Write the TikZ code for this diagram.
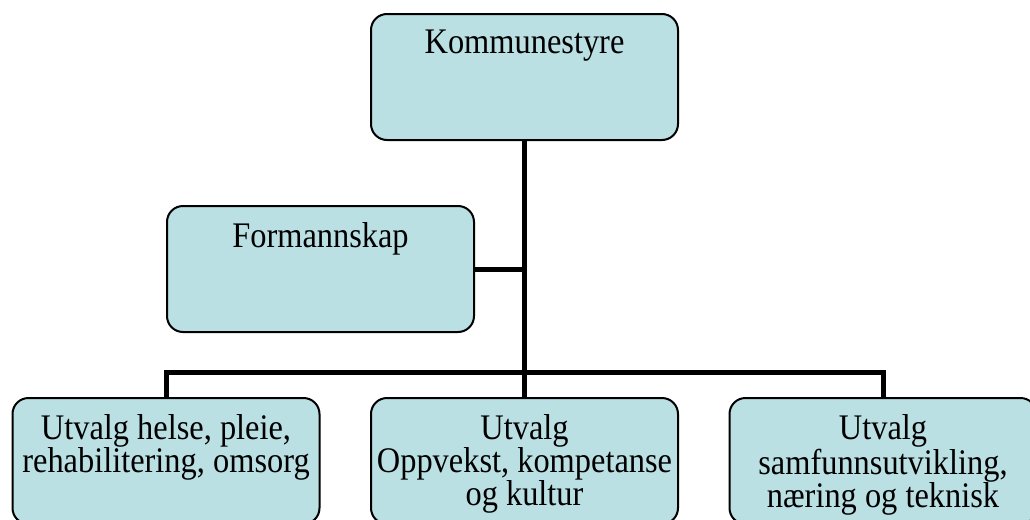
\documentclass[tikz,border=0pt]{standalone}
\usepackage{fontspec}
\setmainfont{Liberation Serif}[FakeStretch=0.9]
\definecolor{unitfillcolor}{RGB}{186,224,228}

\begin{document}
\begin{tikzpicture}[
	x=0.5pt, y=-0.5pt,
	unit/.style={rectangle, draw, fill=unitfillcolor, line width=1pt,
		rounded corners=8pt, minimum width=153.5pt, minimum height=63pt},
	unittext/.style={anchor=north, inner sep=0pt, yshift=-8.5pt, align=center},
	link/.style={line width=2.5pt},
	node distance=96pt,
	every node/.style={font=\fontsize{18}{16.5}\selectfont},
]
\clip (0,0) rectangle (1030,520);
% Input 1: placement, input 2: name, input 3: text at the top of the box.
\def\unitbox[#1](#2)#3{
	\node[unit, #1] (#2) {};
	\node[unittext] at (#2.north) (#2text) {#3};
}
	\unitbox[at={(524.5,77)}](top){Kommunestyre}
	\unitbox[below of=top, xshift=-102pt](FS){Formannskap}
	\unitbox[below of=FS, xshift=102pt](UOK){Utvalg\\Oppvekst, kompetanse\\og kultur}
	\unitbox[left of=UOK, xshift=-83.25pt](UHP){Utvalg helse, pleie,\\
		rehabilitering, omsorg}
	\unitbox[right of=UOK, xshift=83.25pt](USN){Utvalg\\samfunnsutvikling,\\
		næring og teknisk}

	\coordinate (bus) at ([yshift=12.5pt]UOK.north);
	\draw[link] (top.south) -- (UOK.north);
	\draw[link] (UHP.north) |- (bus) -| (USN.north);
	\draw[link] (FS.east) -- (FS.east -| top.south);
\end{tikzpicture}
\end{document}
